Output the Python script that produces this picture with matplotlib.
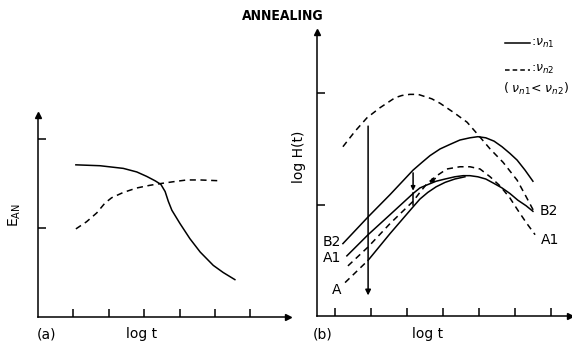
import matplotlib
matplotlib.use('Agg')
from matplotlib import pyplot as plt

plt.rcParams['font.family'] = 'DejaVu Sans'

## (a) E_AN vs log t
a_solid_x = [1.07, 1.75, 2.41, 2.79, 3.07, 3.31, 3.47, 3.59, 3.68, 3.78, 4.01, 4.29, 4.58, 4.95, 5.23, 5.56]
a_solid_y = [1.71, 1.70, 1.67, 1.63, 1.58, 1.53, 1.49, 1.41, 1.30, 1.20, 1.05, 0.88, 0.73, 0.58, 0.50, 0.42]
a_dash_x = [1.07, 1.37, 1.66, 1.89, 2.08, 2.41, 2.79, 3.16, 3.47, 3.82, 4.20, 4.58, 5.19]
a_dash_y = [0.99, 1.07, 1.17, 1.28, 1.34, 1.40, 1.45, 1.48, 1.50, 1.52, 1.54, 1.54, 1.53]

## (b) log H(t) vs log t
b2_n1_x = [0.72, 1.42, 2.03, 2.67, 2.92, 3.14, 3.42, 3.69, 3.97, 4.25, 4.47, 4.69, 4.92, 5.14, 5.36, 5.56, 5.78, 6.00]
b2_n1_y = [0.65, 0.89, 1.09, 1.31, 1.38, 1.44, 1.50, 1.54, 1.58, 1.60, 1.61, 1.60, 1.57, 1.52, 1.46, 1.40, 1.31, 1.21]
a1_n1_x = [0.83, 1.42, 2.03, 2.67, 2.86, 3.08, 3.31, 3.56, 3.83, 4.06, 4.25, 4.47, 4.69, 4.92, 5.14, 5.36, 5.58, 5.81, 6.00]
a1_n1_y = [0.54, 0.73, 0.91, 1.10, 1.15, 1.18, 1.21, 1.23, 1.25, 1.26, 1.26, 1.25, 1.23, 1.19, 1.15, 1.10, 1.04, 0.99, 0.94]
a_x = [0.78, 1.42, 2.03, 2.67, 2.86, 3.08, 3.31, 3.56, 3.83, 4.11]
a_y = [0.30, 0.50, 0.74, 0.98, 1.05, 1.11, 1.16, 1.20, 1.23, 1.25]
a1_n2_x = [0.86, 1.42, 2.03, 2.67, 2.86, 3.06, 3.33, 3.61, 3.97, 4.25, 4.53, 4.81, 5.08, 5.36, 5.58, 5.81, 6.06]
a1_n2_y = [0.45, 0.62, 0.83, 1.03, 1.11, 1.19, 1.26, 1.32, 1.34, 1.34, 1.32, 1.25, 1.17, 1.06, 0.95, 0.84, 0.73]
b2_n2_x = [0.72, 1.06, 1.39, 1.75, 2.17, 2.36, 2.58, 2.81, 3.00, 3.19, 3.42, 3.83, 4.17, 4.44, 4.81, 5.17, 5.56, 5.78, 6.06]
b2_n2_y = [1.52, 1.66, 1.78, 1.87, 1.96, 1.98, 1.99, 1.99, 1.97, 1.95, 1.91, 1.82, 1.74, 1.64, 1.50, 1.38, 1.22, 1.09, 0.92]

W, H = 572, 345
fig = plt.figure(figsize=(W / 100, H / 100), dpi=100)

def px_axes(x0, y0, x1, y1):
    # axes rectangle from pixel corners (top-left origin)
    return fig.add_axes([x0 / W, 1 - y1 / H, (x1 - x0) / W, (y1 - y0) / H])

lw = 1.1
dash = (4, 3)

def style(ax, xt, yt):
    for s in ['top', 'right']:
        ax.spines[s].set_visible(False)
    for s in ['left', 'bottom']:
        ax.spines[s].set_linewidth(lw)
    ax.set_xticks(xt)
    ax.set_yticks(yt)
    ax.set_xticklabels([])
    ax.set_yticklabels([])
    ax.tick_params(direction='in', length=6, width=lw)
    ax.plot(1, 0, '>k', ms=4, transform=ax.transAxes, clip_on=False)
    ax.plot(0, 1, '^k', ms=4, transform=ax.transAxes, clip_on=False)

# left panel
ax1 = px_axes(38, 115, 288, 317)
ax1.set_xlim(0, 7.06)
ax1.set_ylim(0, 2.27)
style(ax1, [1, 2, 3, 4, 5, 6], [1, 2])
ax1.plot(a_solid_x, a_solid_y, 'k-', lw=lw)
ax1.plot(a_dash_x, a_dash_y, 'k--', lw=lw, dashes=dash)

# right panel
ax2 = px_axes(317, 32, 570, 316)
ax2.set_xlim(0, 7.03)
ax2.set_ylim(0, 2.55)
style(ax2, [0.5, 1.5, 2.5, 3.5, 4.5, 5.5, 6.5], [1, 2])
ax2.plot(b2_n1_x, b2_n1_y, 'k-', lw=lw)
ax2.plot(a1_n1_x, a1_n1_y, 'k-', lw=lw)
ax2.plot(a_x[:2], a_y[:2], 'k--', lw=lw, dashes=dash)
ax2.plot(a_x[1:], a_y[1:], 'k-', lw=lw)
ax2.plot(a1_n2_x, a1_n2_y, 'k--', lw=lw, dashes=dash)
ax2.plot(b2_n2_x, b2_n2_y, 'k--', lw=lw, dashes=dash)

# arrows
ax2.annotate('', xy=(1.42, 0.16), xytext=(1.42, 1.73),
             arrowprops=dict(arrowstyle='-|>', color='k', lw=lw, mutation_scale=8))
ax2.annotate('', xy=(2.67, 1.10), xytext=(2.67, 1.31),
             arrowprops=dict(arrowstyle='-|>', color='k', lw=lw, mutation_scale=6))
ax2.plot([2.67, 2.67], [1.10, 1.00], 'k-', lw=lw)
ax2.annotate('', xy=(3.06, 1.18), xytext=(3.35, 1.25),
             arrowprops=dict(arrowstyle='-|>', color='k', lw=lw, mutation_scale=6))

fs = 10
# curve labels
ax2.text(0.67, 0.66, 'B2', ha='right', va='center', fontsize=fs)
ax2.text(0.67, 0.52, 'A1', ha='right', va='center', fontsize=fs)
ax2.text(0.67, 0.23, 'A', ha='right', va='center', fontsize=fs)
ax2.text(6.19, 0.94, 'B2', ha='left', va='center', fontsize=fs)
ax2.text(6.22, 0.68, 'A1', ha='left', va='center', fontsize=fs)

# legend
ax2.plot([5.22, 5.92], [2.45, 2.45], 'k-', lw=lw, clip_on=False)
ax2.plot([5.22, 5.92], [2.21, 2.21], 'k--', lw=lw, dashes=(3, 2), clip_on=False)
ax2.text(5.95, 2.45, r':$\nu_{n1}$', ha='left', va='center', fontsize=9)
ax2.text(5.95, 2.21, r':$\nu_{n2}$', ha='left', va='center', fontsize=9)
ax2.text(6.08, 2.04, r'( $\nu_{n1}$< $\nu_{n2}$)', ha='center', va='center', fontsize=9)

# axis texts
def ftext(x, y, s, **kw):
    fig.text(x / W, 1 - y / H, s, ha='center', va='center', fontsize=fs, **kw)

ftext(283, 16, 'ANNEALING', fontweight='bold', fontstretch='condensed')
ftext(15, 215, r'E$_{\mathrm{AN}}$', rotation=90)
ftext(299, 157, 'log H(t)', rotation=90)
ftext(46, 334, '(a)')
ftext(142, 334, 'log t')
ftext(323, 334, '(b)')
ftext(428, 334, 'log t')

fig.savefig('out.png', dpi=100)
